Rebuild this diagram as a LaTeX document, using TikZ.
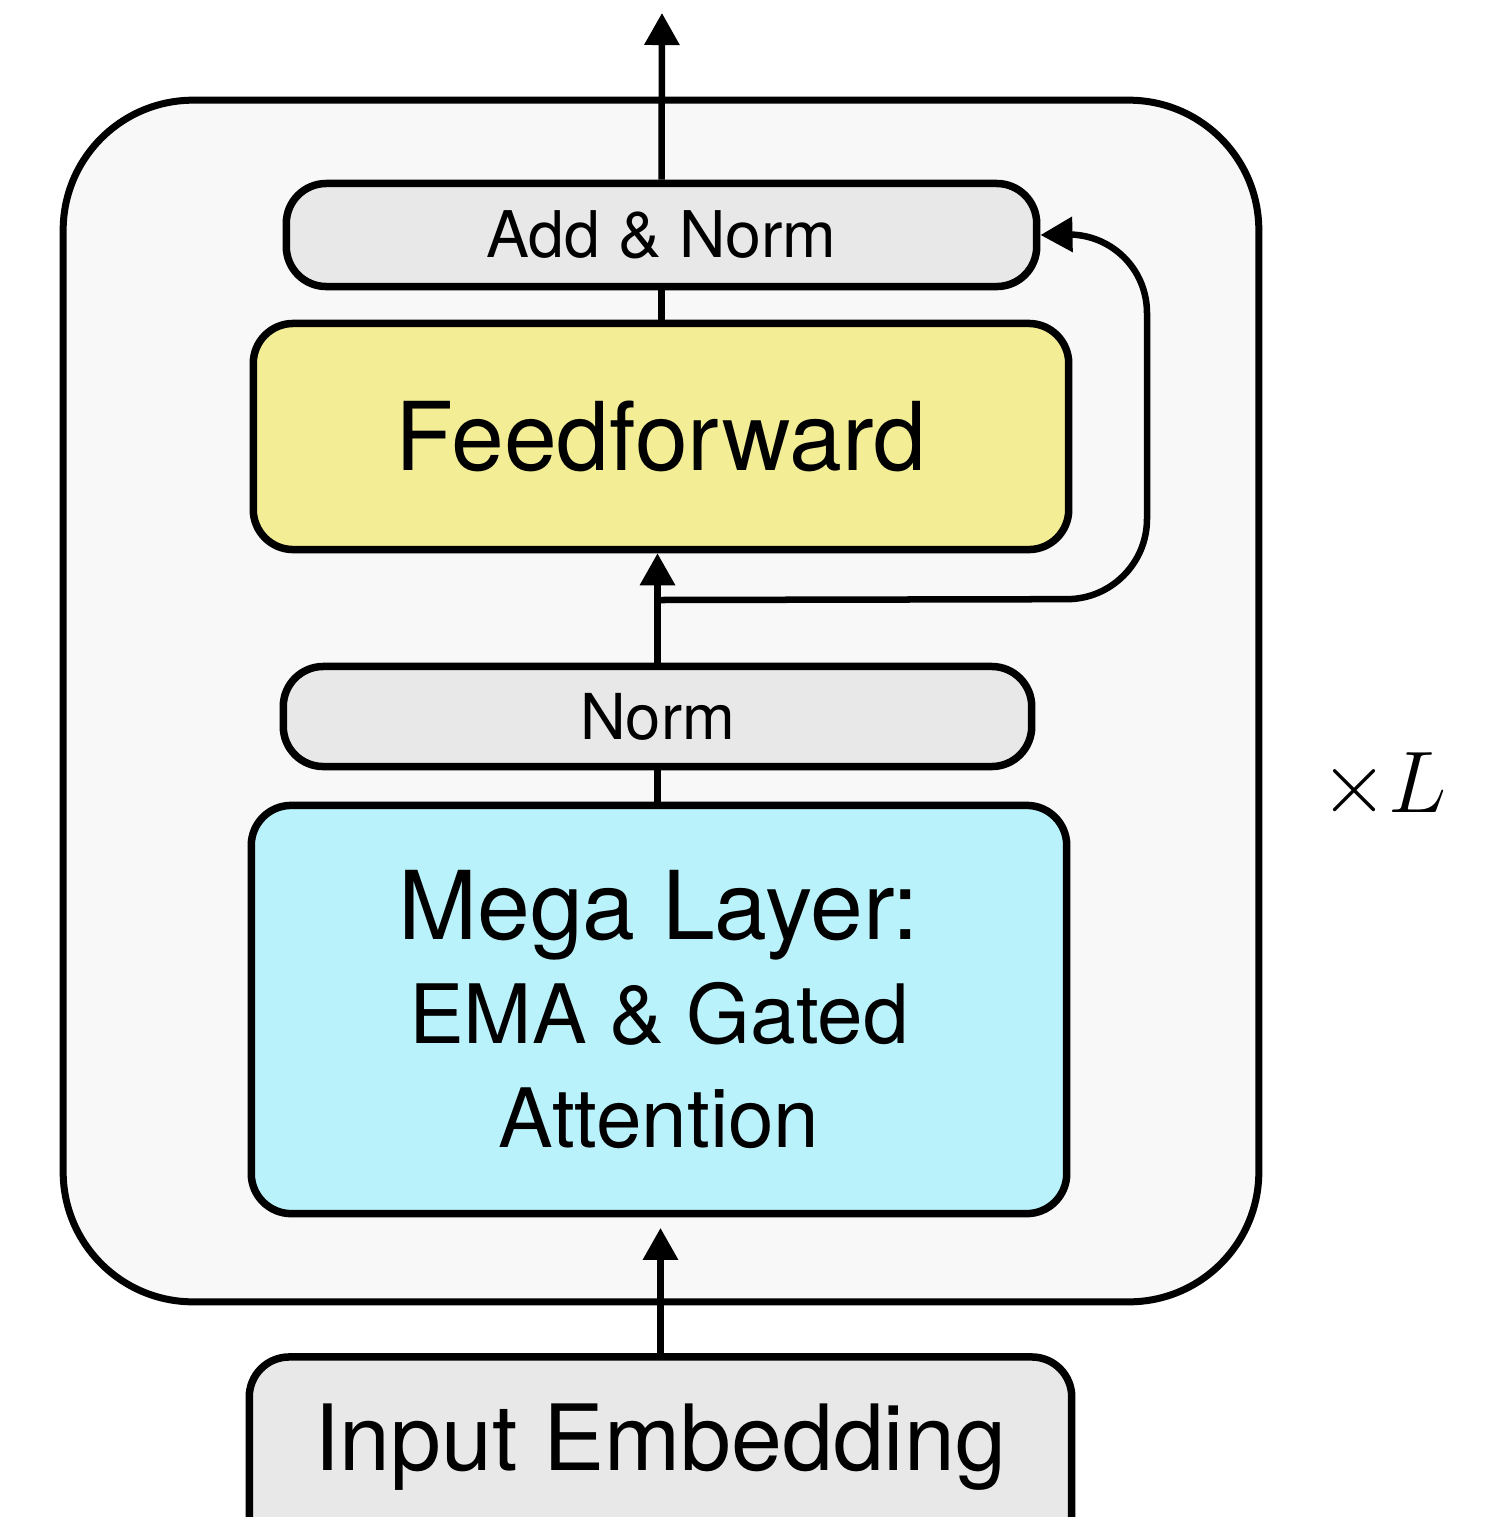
\documentclass[tikz,border=0pt]{standalone}
\usepackage{fontspec}
\setmainfont{TeX Gyre Heros}
\usetikzlibrary{arrows.meta}
\definecolor{outerfill}{HTML}{F8F8F8}
\definecolor{grayfill}{HTML}{E8E8E8}
\definecolor{yellowfill}{HTML}{F3ED96}
\definecolor{cyanfill}{HTML}{BAF2FB}
\tikzset{
  blk/.style={draw=black, line width=0.075cm, rounded corners=0.4cm, inner sep=0pt, align=center},
  conn/.style={draw=black, line width=0.065cm},
  arr/.style={conn, -{Triangle[length=0.32cm,width=0.34cm]}},
}
\begin{document}
\begin{tikzpicture}[x=0.01cm,y=-0.01cm]
\useasboundingbox (0,0) rectangle (1496,1517);
\node[draw=black, line width=0.07cm, rounded corners=1.3cm, fill=outerfill, minimum width=11.95cm, minimum height=12.01cm] (outer) at (661,701) {};
\node[blk, fill=grayfill, minimum width=7.50cm, minimum height=1.03cm, font=\fontsize{18.3}{22}\selectfont] (addnorm) at (661.5,235) {Add \& Norm};
\node[blk, fill=yellowfill, minimum width=8.15cm, minimum height=2.26cm, font=\fontsize{27}{32}\selectfont] (ff) at (661,436.5) {Feedforward};
\node[blk, fill=grayfill, minimum width=7.48cm, minimum height=1.00cm, font=\fontsize{18}{22}\selectfont] (norm) at (657.5,716.5) {Norm};
\node[blk, fill=cyanfill, minimum width=8.15cm, minimum height=4.08cm, font=\fontsize{23.3}{29.5}\selectfont] (mega) at (659,1009.5) {{\fontsize{27}{29.5}\selectfont Mega Layer:}\\EMA \& Gated\\Attention};
\node[blk, fill=grayfill, minimum width=8.22cm, minimum height=2.10cm] (input) at (660.5,1462) {};
\node[font=\fontsize{26}{30}\selectfont, anchor=base] (inputtext) at (660,1470) {Input Embedding};
\node (times) at (1384,786) {\fontsize{28}{30}\selectfont $\times L$};
\coordinate (top) at (662,13);
\coordinate (branch) at (657.5,600);
\draw[arr, shorten >=3pt] (input.north) -- (input.north |- mega.south);
\draw[conn] (mega.north -| norm.south) -- (norm.south);
\draw[arr] (norm.north) -- (norm.north |- ff.south);
\draw[conn] (ff.north -| addnorm.south) -- (addnorm.south);
\draw[arr] (addnorm.north) -- (top);
\draw[arr, rounded corners=0.8cm] (branch) -- (1147,599) -- (1147,233) -- (addnorm.east);
\end{tikzpicture}
\end{document}
